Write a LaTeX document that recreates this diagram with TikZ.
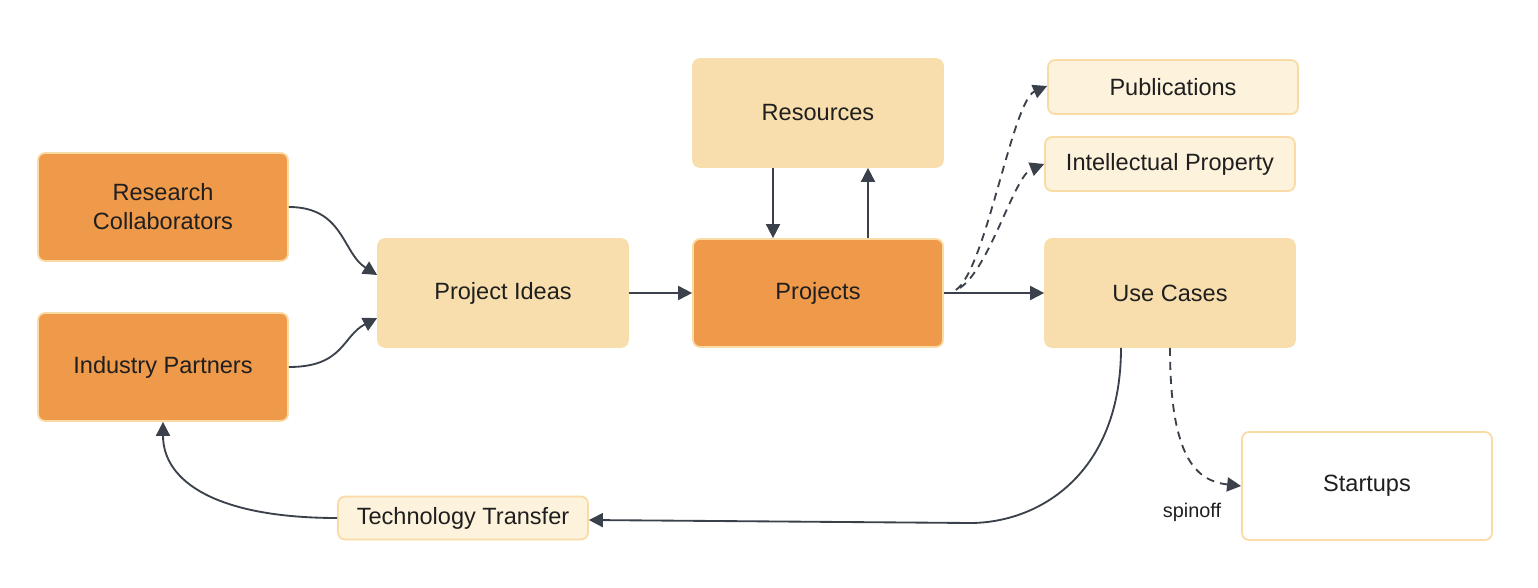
\documentclass[tikz,border=0pt]{standalone}
\usepackage{fontspec}
\setmainfont{Liberation Sans}
\usetikzlibrary{calc,arrows.meta}
\definecolor{deep}{HTML}{EF994A}
\definecolor{sand}{HTML}{F8DEAC}
\definecolor{cream}{HTML}{FDF2DC}
\definecolor{rim}{HTML}{F9DBA5}
\definecolor{ink}{HTML}{3A414A}

\begin{document}
\begin{tikzpicture}[x=0.02cm,y=-0.02cm,
    box/.style={draw=rim,line width=1pt,rounded corners=4pt,minimum width=5cm,
      minimum height=2.16cm,align=center,text=black!88,
      font=\fontsize{13.4}{16.5}\selectfont},
    deepbox/.style={box,fill=deep},
    sandbox/.style={box,fill=sand,draw=sand},
    slim/.style={box,fill=cream,minimum height=1.08cm},
    arr/.style={draw=ink,line width=1.05pt,-{Triangle[length=8pt,width=8pt]}},
    dasharr/.style={arr,dash pattern=on 4.5pt off 3.5pt}]
            \useasboundingbox (0,0) rectangle (1538,588);
            \node[deepbox] (rc) at (163,207) {Research\\Collaborators};
            \node[deepbox] (ip) at (163,367) {Industry Partners};
            \node[sandbox] (ideas) at (503,293) {Project Ideas};
            \node[sandbox] (res) at (818,113) {Resources};
            \node[deepbox] (proj) at (818,293) {Projects};
            \node[slim] (pub) at (1173,87) {Publications};
            \node[slim] (prop) at (1170,164) {Intellectual Property};
            \node[sandbox] (uc) at (1170,293) {Use Cases};
            \node[box,fill=white] (start) at (1367,486) {Startups};
            \node[slim,minimum height=0.86cm] (tt) at (463,518) {Technology Transfer};
            \node[font=\fontsize{11.3}{13}\selectfont,text=black!88] (spin) at (1192,512) {spinoff};
            \draw[arr] (rc.east) .. controls +(55,0) and +(-35,-22) .. ($(ideas.west)+(0,-18)$);
            \draw[arr] (ip.east) .. controls +(55,0) and +(-35,18) .. ($(ideas.west)+(0,25)$);
            \draw[arr] (ideas.east) -- (proj.west);
            \draw[arr] ($(res.south)+(-45,0)$) -- ($(proj.north)+(-45,0)$);
            \draw[arr] ($(proj.north)+(50,0)$) -- ($(res.south)+(50,0)$);
            \draw[arr] (proj.east) -- (uc.west);
            \draw[dasharr] ($(proj.east)+(12,-3)$) .. controls +(30,-20) and +(-35,15) .. ($(pub.west)+(0,-1)$);
            \draw[dasharr] ($(proj.east)+(16,-5)$) .. controls +(30,-20) and +(-30,12) .. (prop.west);
            \draw[dasharr] (uc.south) .. controls +(0,110) and +(-45,-5) .. (start.west);
            \draw[arr] ($(uc.south)+(-49,0)$) .. controls +(0,125) and +(70,0) .. (970,523) -- ($(tt.east)+(0,2)$);
            \draw[arr] (tt.west) .. controls +(-120,0) and +(0,60) .. (ip.south);
        \end{tikzpicture}
\end{document}
